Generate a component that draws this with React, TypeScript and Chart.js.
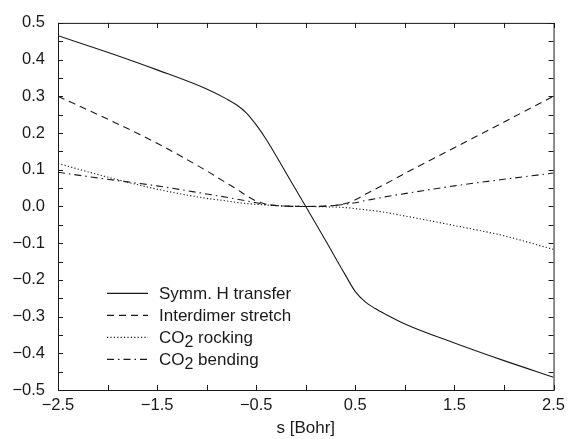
import React, { useEffect, useRef } from "react";
import { Chart, registerables } from "chart.js";

Chart.register(...registerables);

// ---- data ----
const sValues = [-2.5, -2, -1.5, -1, -0.8, -0.7, -0.6, -0.5, -0.4, -0.2, 0, 0.2, 0.4, 0.5, 0.6, 0.7, 0.8, 1, 1.5, 2, 2.5];
const symmHTransfer = [0.465, 0.42, 0.372, 0.32, 0.293, 0.277, 0.255, 0.222, 0.183, 0.092, 0, -0.093, -0.187, -0.232, -0.26, -0.278, -0.293, -0.32, -0.372, -0.42, -0.465];
const interdimerStretch = [0.3, 0.238, 0.172, 0.097, 0.064, 0.048, 0.03, 0.015, 0.006, 0.001, 0, 0.001, 0.008, 0.018, 0.033, 0.047, 0.061, 0.09, 0.16, 0.23, 0.3];
const co2Rocking = [0.117, 0.08, 0.047, 0.022, 0.015, 0.011, 0.008, 0.006, 0.004, 0.001, 0, -0.001, -0.003, -0.006, -0.009, -0.012, -0.016, -0.026, -0.052, -0.08, -0.117];
const co2Bending = [0.093, 0.074, 0.056, 0.034, 0.025, 0.02, 0.015, 0.01, 0.005, 0.001, 0, 0.001, 0.006, 0.01, 0.016, 0.021, 0.026, 0.035, 0.056, 0.074, 0.091];
const seriesLabels = ["Symm. H transfer", "Interdimer stretch", "CO₂ rocking", "CO₂ bending"];
const xTickLabels = [-2.5, -1.5, -0.5, 0.5, 1.5, 2.5];
const xTickMarks = [-2.5, -2, -1.5, -1, -0.5, 0, 0.5, 1, 1.5, 2, 2.5];
const yTickLabels = [0.5, 0.4, 0.3, 0.2, 0.1, 0, -0.1, -0.2, -0.3, -0.4, -0.5];
const yTickMarks = [0.5, 0.45, 0.4, 0.35, 0.3, 0.25, 0.2, 0.15, 0.1, 0.05, 0, -0.05, -0.1, -0.15, -0.2, -0.25, -0.3, -0.35, -0.4, -0.45, -0.5];
const xTitle = "s [Bohr]";

const FONT = "'Liberation Sans', Arial, Helvetica, sans-serif";
const INK = "#1a1a1a";

function fmt(v: number): string {
  if (Math.abs(v) < 1e-9) return "0.0";
  return v.toFixed(1).replace("-", "\u2212");
}

function drawLabel(ctx: CanvasRenderingContext2D, text: string, x: number, y: number) {
  const parts = text.split("₂");
  let cx = x;
  parts.forEach((p, i) => {
    ctx.font = `17px ${FONT}`;
    ctx.fillText(p, cx, y);
    cx += ctx.measureText(p).width;
    if (i < parts.length - 1) {
      ctx.font = `16px ${FONT}`;
      ctx.fillText("2", cx, y + 5);
      cx += ctx.measureText("2").width;
    }
  });
}

const framePlugin = {
  id: "frameTicksLegend",
  afterDatasetsDraw(chart: any) {
    const { ctx, chartArea: a, scales } = chart;
    const xs = scales.x;
    const ys = scales.y;
    ctx.save();
    ctx.strokeStyle = INK;
    ctx.lineWidth = 1;
    ctx.setLineDash([]);
    ctx.strokeRect(a.left + 0.5, a.top + 0.5, a.right - a.left, a.bottom - a.top);
    ctx.beginPath();
    const tl = 5;
    xTickMarks.forEach((v) => {
      const px = Math.round(xs.getPixelForValue(v)) + 0.5;
      ctx.moveTo(px, a.bottom);
      ctx.lineTo(px, a.bottom - tl);
      ctx.moveTo(px, a.top);
      ctx.lineTo(px, a.top + tl);
    });
    yTickMarks.forEach((v) => {
      const py = Math.round(ys.getPixelForValue(v)) + 0.5;
      ctx.moveTo(a.left, py);
      ctx.lineTo(a.left + tl, py);
      ctx.moveTo(a.right, py);
      ctx.lineTo(a.right - tl, py);
    });
    ctx.stroke();

    // legend inside plot area
    chart.data.datasets.forEach((ds: any, i: number) => {
      const y = a.top + 270 + i * 22;
      ctx.beginPath();
      ctx.lineWidth = ds.borderWidth;
      ctx.strokeStyle = ds.borderColor;
      ctx.setLineDash(ds.borderDash || []);
      ctx.moveTo(a.left + 49, y + 0.5);
      ctx.lineTo(a.left + 90, y + 0.5);
      ctx.stroke();
      ctx.setLineDash([]);
      ctx.fillStyle = INK;
      ctx.textBaseline = "middle";
      ctx.textAlign = "left";
      drawLabel(ctx, ds.label, a.left + 101, y + 1);
    });
    ctx.restore();
  },
};

export default function App() {
  const ref = useRef<HTMLCanvasElement>(null);
  useEffect(() => {
    document.body.style.margin = "0";
    const canvas = ref.current!;
    const mk = (vals: number[]) => sValues.map((s, i) => ({ x: s, y: vals[i] }));
    const base = {
      borderColor: INK,
      borderWidth: 1.1,
      pointRadius: 0,
      fill: false,
      cubicInterpolationMode: "monotone" as const,
    };
    const chart = new Chart(canvas, {
      type: "line",
      data: {
        datasets: [
          { ...base, label: seriesLabels[0], data: mk(symmHTransfer), borderDash: [] },
          { ...base, label: seriesLabels[1], data: mk(interdimerStretch), borderDash: [7, 5] },
          { ...base, label: seriesLabels[2], data: mk(co2Rocking), borderDash: [1.2, 2.2] },
          { ...base, label: seriesLabels[3], data: mk(co2Bending), borderDash: [7, 4, 1.5, 4] },
        ],
      },
      options: {
        responsive: false,
        animation: false,
        devicePixelRatio: 1,
        layout: { padding: { top: 17, right: 15, left: 0, bottom: 0 } },
        plugins: { legend: { display: false }, tooltip: { enabled: false } },
        scales: {
          x: {
            type: "linear",
            min: -2.5,
            max: 2.5,
            grid: { display: false, drawTicks: false },
            border: { display: false },
            afterBuildTicks: (s: any) => {
              s.ticks = xTickLabels.map((v) => ({ value: v }));
            },
            afterFit: (s: any) => {
              s.height = 49;
            },
            ticks: {
              autoSkip: false,
              maxRotation: 0,
              padding: 6,
              color: INK,
              font: { family: FONT, size: 16.5 },
              callback: (v: any) => fmt(Number(v)),
            },
            title: {
              display: true,
              text: xTitle,
              color: INK,
              font: { family: FONT, size: 17 },
              padding: { top: 0, bottom: 0 },
            },
          },
          y: {
            type: "linear",
            min: -0.5,
            max: 0.5,
            grid: { display: false, drawTicks: false },
            border: { display: false },
            afterBuildTicks: (s: any) => {
              s.ticks = yTickLabels.map((v) => ({ value: v }));
            },
            afterFit: (s: any) => {
              s.width = 58;
            },
            ticks: {
              autoSkip: false,
              padding: 13,
              color: INK,
              font: { family: FONT, size: 16.5 },
              callback: (v: any) => fmt(Number(v)),
            },
          },
        },
      },
      plugins: [framePlugin],
    });
    return () => chart.destroy();
  }, []);
  return <canvas ref={ref} width={571} height={439} style={{ display: "block" }} />;
}
